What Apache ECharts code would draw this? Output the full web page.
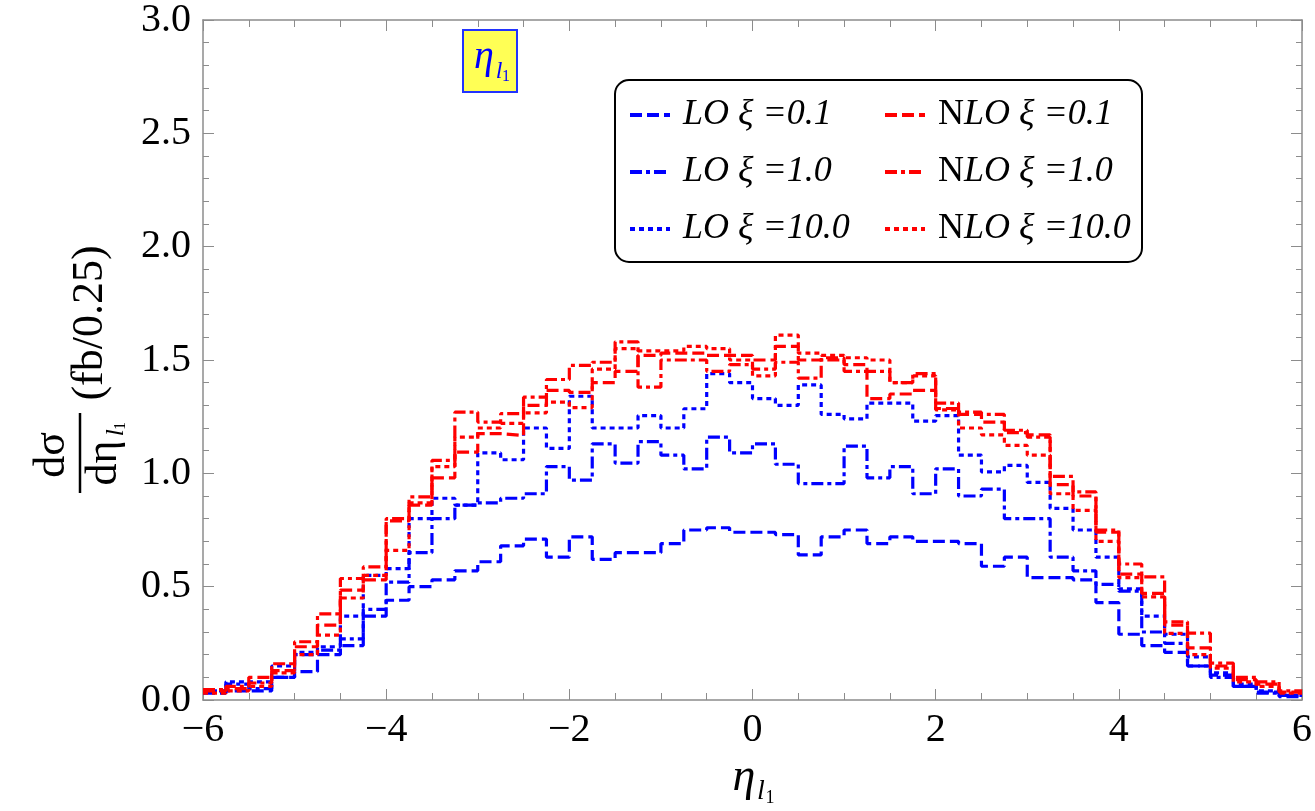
<!DOCTYPE html>
<html>
<head>
<meta charset="utf-8">
<script src="https://cdn.jsdelivr.net/npm/echarts@6/dist/echarts.min.js"></script>
<style>
  html, body { margin: 0; padding: 0; background: #fff; }
  #chart { width: 1315px; height: 811px; }
</style>
</head>
<body>
<div id="chart"></div>
<script>
// bin edges of eta_l1, width 0.25
const edges = [-6, -5.75, -5.5, -5.25, -5, -4.75, -4.5, -4.25, -4, -3.75, -3.5, -3.25,
  -3, -2.75, -2.5, -2.25, -2, -1.75, -1.5, -1.25, -1, -0.75, -0.5, -0.25,
  0, 0.25, 0.5, 0.75, 1, 1.25, 1.5, 1.75, 2, 2.25, 2.5, 2.75, 3, 3.25, 3.5, 3.75,
  4, 4.25, 4.5, 4.75, 5, 5.25, 5.5, 5.75, 6]

// values per bin
const lo01 = [0.03, 0.04, 0.04, 0.10, 0.125, 0.20, 0.24, 0.37, 0.44, 0.50, 0.53, 0.57,
  0.61, 0.68, 0.71, 0.63, 0.72, 0.62, 0.65, 0.65, 0.69, 0.75, 0.76, 0.74,
  0.74, 0.73, 0.64, 0.72, 0.75, 0.69, 0.72, 0.70, 0.70, 0.69, 0.59, 0.63,
  0.54, 0.54, 0.53, 0.43, 0.29, 0.24, 0.21, 0.15, 0.11, 0.06, 0.035, 0.015]
const lo10 = [0.04, 0.07, 0.05, 0.10, 0.20, 0.22, 0.27, 0.40, 0.52, 0.65, 0.80, 0.86,
  0.87, 0.89, 0.91, 1.03, 0.97, 1.13, 1.045, 1.14, 1.08, 1.02, 1.16, 1.09,
  1.13, 1.04, 0.955, 0.955, 1.12, 0.98, 1.03, 0.91, 1.02, 0.90, 0.93, 0.80,
  0.80, 0.63, 0.57, 0.51, 0.48, 0.30, 0.25, 0.15, 0.10, 0.06, 0.03, 0.02]
const lo100 = [0.04, 0.08, 0.08, 0.15, 0.21, 0.235, 0.37, 0.55, 0.58, 0.80, 0.89, 0.86,
  1.09, 1.06, 1.20, 1.11, 1.34, 1.20, 1.20, 1.255, 1.20, 1.285, 1.44, 1.40,
  1.33, 1.30, 1.39, 1.26, 1.24, 1.31, 1.31, 1.23, 1.255, 1.08, 1.006, 1.035,
  0.96, 0.845, 0.75, 0.63, 0.49, 0.37, 0.29, 0.19, 0.12, 0.07, 0.04, 0.02]
const nlo01 = [0.04, 0.05, 0.10, 0.13, 0.235, 0.33, 0.485, 0.53, 0.79, 0.86, 0.98, 1.094,
  1.175, 1.167, 1.30, 1.366, 1.357, 1.40, 1.45, 1.52, 1.53, 1.53, 1.52, 1.52,
  1.50, 1.56, 1.50, 1.51, 1.48, 1.33, 1.35, 1.366, 1.286, 1.26, 1.226, 1.18,
  1.17, 0.95, 0.90, 0.74, 0.555, 0.47, 0.33, 0.23, 0.15, 0.09, 0.07, 0.035]
const nlo10 = [0.046, 0.06, 0.075, 0.16, 0.257, 0.38, 0.536, 0.587, 0.80, 0.896, 1.057, 1.27,
  1.226, 1.263, 1.336, 1.414, 1.476, 1.49, 1.58, 1.38, 1.50, 1.50, 1.45, 1.48,
  1.46, 1.49, 1.42, 1.50, 1.45, 1.45, 1.40, 1.44, 1.31, 1.27, 1.26, 1.19,
  1.16, 0.987, 0.918, 0.75, 0.60, 0.543, 0.345, 0.295, 0.163, 0.10, 0.08, 0.04]
const nlo100 = [0.03, 0.04, 0.06, 0.12, 0.20, 0.286, 0.45, 0.55, 0.66, 0.87, 1.03, 1.16,
  1.20, 1.22, 1.267, 1.314, 1.29, 1.46, 1.55, 1.54, 1.54, 1.56, 1.55, 1.50,
  1.43, 1.61, 1.53, 1.52, 1.51, 1.50, 1.40, 1.43, 1.28, 1.20, 1.17, 1.123,
  1.08, 0.91, 0.837, 0.70, 0.54, 0.455, 0.294, 0.20, 0.14, 0.08, 0.06, 0.03]

const SERIF = '"Liberation Serif", "DejaVu Serif", serif'
const BLUE = '#0000ff'
const RED = '#ff0000'
const dashed = [12, 5]
const dashDot = [12, 4, 4, 4]
const dotted = [5, 4]

// histogram: each edge carries the value of the bin to its right
const steps = vals => edges.map((e, i) => [e, vals[Math.min(i, vals.length - 1)]])

const mkSeries = (name, vals, color, dash) => ({
    name: name,
    type: 'line',
    step: 'end',
    symbol: 'none',
    animation: false,
    lineStyle: { color: color, width: 3.2, type: dash },
    itemStyle: { color: color },
    data: steps(vals)
})

const tickColor = '#8c8c8c'
const xAxisBase = {
    type: 'value', min: -6, max: 6, interval: 2,
    axisLine: { show: true, onZero: false, lineStyle: { color: tickColor, width: 1.5 } },
    axisTick: { show: true, inside: true, length: 11, lineStyle: { color: tickColor } },
    minorTick: { show: true, splitNumber: 4, length: 7, lineStyle: { color: tickColor } },
    splitLine: { show: false }
}
const yAxisBase = {
    type: 'value', min: 0, max: 3, interval: 0.5,
    axisLine: { show: true, onZero: false, lineStyle: { color: tickColor, width: 1.5 } },
    axisTick: { show: true, inside: true, length: 11, lineStyle: { color: tickColor } },
    minorTick: { show: true, splitNumber: 5, length: 6, lineStyle: { color: tickColor } },
    splitLine: { show: false }
}

const legendRich = {
    i: { fontFamily: SERIF, fontStyle: 'italic', fontSize: 36, color: '#000' },
    n: { fontFamily: SERIF, fontSize: 36, color: '#000' }
}
const legendBase = {
    orient: 'vertical',
    top: 90,
    itemWidth: 40,
    itemHeight: 14,
    itemGap: 17,
    itemStyle: { opacity: 0 },
    lineStyle: { width: 4 },
    textStyle: { lineHeight: 40, rich: legendRich, padding: [0, 0, 0, 8] }
}

const txt = (x, y, text, size, opt) => ({
    type: 'text', x: x, y: y,
    style: Object.assign({
        text: text, fontFamily: SERIF, fontSize: size, fill: '#000',
        align: 'center', verticalAlign: 'middle'
    }, opt || {})
})

const chart = echarts.init(document.getElementById('chart'))
chart.setOption({
    backgroundColor: '#fff',
    animation: false,
    grid: { left: 203, right: 13, top: 19, bottom: 111 },
    xAxis: [
        Object.assign({}, xAxisBase, {
            position: 'bottom',
            axisLabel: {
                fontFamily: SERIF, fontSize: 40, color: '#000', margin: 10,
                formatter: v => String(v).replace('-', '\u2212')
            }
        }),
        Object.assign({}, xAxisBase, { position: 'top', axisLabel: { show: false } })
    ],
    yAxis: [
        Object.assign({}, yAxisBase, {
            position: 'left',
            axisLabel: {
                fontFamily: SERIF, fontSize: 40, color: '#000', margin: 12,
                formatter: v => v.toFixed(1)
            }
        }),
        Object.assign({}, yAxisBase, { position: 'right', axisLabel: { show: false } })
    ],
    legend: [
        Object.assign({}, legendBase, {
            left: 623,
            data: ['LO ξ =0.1', 'LO ξ =1.0', 'LO ξ =10.0'],
            formatter: name => '{i|' + name + '}'
        }),
        Object.assign({}, legendBase, {
            left: 878,
            data: ['NLO ξ =0.1', 'NLO ξ =1.0', 'NLO ξ =10.0'],
            formatter: name => '{n|N}{i|' + name.slice(1) + '}'
        })
    ],
    graphic: [
        // legend frame
        {
            type: 'rect', z: 0,
            shape: { x: 615, y: 80, width: 527, height: 182, r: 14 },
            style: { fill: '#fff', stroke: '#000', lineWidth: 2 }
        },
        // yellow tag
        {
            type: 'group', x: 463, y: 30,
            children: [
                { type: 'rect', shape: { x: 0, y: 0, width: 54, height: 62 },
                  style: { fill: '#ffff55', stroke: '#2233ff', lineWidth: 2 } },
                txt(21, 27, 'η', 40, { fill: BLUE, fontStyle: 'italic' }),
                txt(36, 42, 'l', 24, { fill: BLUE, fontStyle: 'italic' }),
                txt(43, 47, '1', 16, { fill: BLUE })
            ]
        },
        // x axis name
        {
            type: 'group', x: 752, y: 778,
            children: [
                txt(-8, 0, 'η', 46, { fontStyle: 'italic' }),
                txt(9, 14, 'l', 28, { fontStyle: 'italic' }),
                txt(18, 20, '1', 18)
            ]
        },
        // y axis name, rotated
        {
            type: 'group', x: 80, y: 365, rotation: Math.PI / 2,
            children: [
                txt(-90, -28, 'dσ', 44),
                { type: 'line', shape: { x1: -128, y1: 0, x2: -48, y2: 0 },
                  style: { stroke: '#000', lineWidth: 2.5 } },
                txt(-98, 24, 'dη', 44),
                txt(-68, 36, 'l', 26, { fontStyle: 'italic' }),
                txt(-61, 41, '1', 16),
                txt(42, 10, '(fb/0.25)', 44)
            ]
        }
    ],
    series: [
        mkSeries('LO ξ =0.1', lo01, BLUE, dashed),
        mkSeries('LO ξ =1.0', lo10, BLUE, dashDot),
        mkSeries('LO ξ =10.0', lo100, BLUE, dotted),
        mkSeries('NLO ξ =0.1', nlo01, RED, dashed),
        mkSeries('NLO ξ =1.0', nlo10, RED, dashDot),
        mkSeries('NLO ξ =10.0', nlo100, RED, dotted)
    ]
})
</script>
</body>
</html>
